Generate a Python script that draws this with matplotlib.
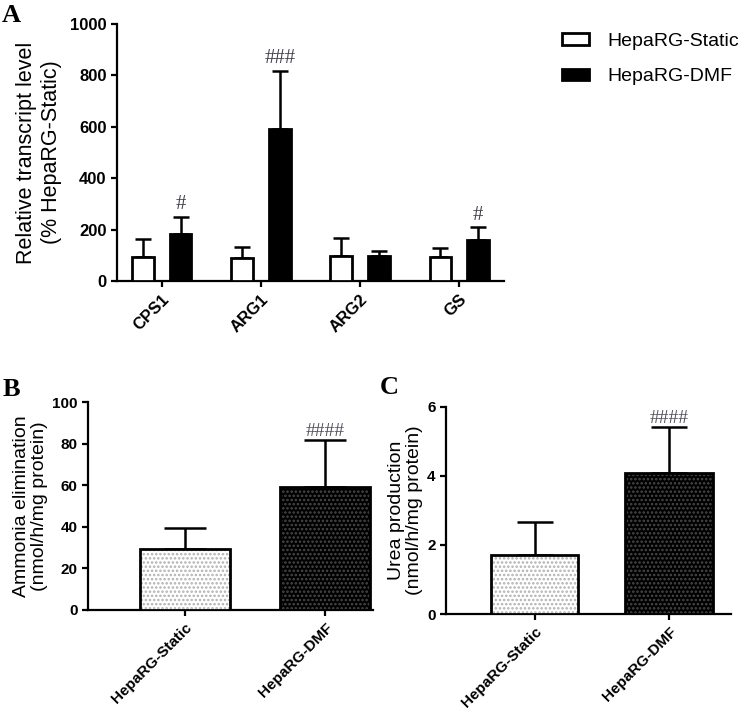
import numpy as np
import matplotlib
matplotlib.use("Agg")
import matplotlib.pyplot as plt
from matplotlib.patches import Patch

plt.rcParams['font.family'] = ['Liberation Sans', 'DejaVu Sans']
plt.rcParams['hatch.linewidth'] = 1.2

# Panel A: transcript levels (% HepaRG-Static), mean and SD
genes = ["CPS1", "ARG1", "ARG2", "GS"]
static_mean = [95, 90, 97, 92]
static_sd = [68, 42, 70, 38]
dmf_mean = [183, 592, 97, 158]
dmf_sd = [66, 225, 21, 51]
a_marks = ["#", "###", "", "#"]

# Panel B: ammonia elimination
groups = ["HepaRG-Static", "HepaRG-DMF"]
ammonia_mean = [29.5, 59.3]
ammonia_sd = [10.2, 22.3]

# Panel C: urea production
urea_mean = [1.70, 4.07]
urea_sd = [0.95, 1.35]

fig = plt.figure(figsize=(7.53, 7.11), dpi=100)


def style_axes(ax, tick_size):
    for s in ["top", "right"]:
        ax.spines[s].set_visible(False)
    for s in ["left", "bottom"]:
        ax.spines[s].set_linewidth(1.6)
    ax.tick_params(width=1.6, length=4, labelsize=tick_size)
    for lab in ax.get_yticklabels():
        lab.set_fontweight("bold")


# ---- Panel A ----
axA = fig.add_axes([0.1554, 0.6048, 0.5139, 0.3615])
x = np.arange(len(genes))
w = 0.22
off = 0.19
axA.bar(x - off, static_mean, w, color="white", edgecolor="black", linewidth=2, zorder=3)
axA.bar(x + off, dmf_mean, w, color="black", edgecolor="black", linewidth=2, zorder=3)
axA.errorbar(x - off, static_mean, yerr=[np.zeros(4), static_sd], fmt="none",
             ecolor="black", elinewidth=1.8, capsize=6, capthick=1.8, zorder=2)
axA.errorbar(x + off, dmf_mean, yerr=[np.zeros(4), dmf_sd], fmt="none",
             ecolor="black", elinewidth=1.8, capsize=6, capthick=1.8, zorder=2)
for i, m in enumerate(a_marks):
    if m:
        axA.text(x[i] + off, dmf_mean[i] + dmf_sd[i] + 10, m, ha="center", va="bottom",
                 fontsize=15, color="#40404a", family="Liberation Serif")
axA.set_xlim(-0.45, 3.45)
axA.set_ylim(0, 1000)
axA.set_yticks([0, 200, 400, 600, 800, 1000])
axA.set_xticks(x)
axA.set_xticklabels(genes, rotation=45, ha="right", rotation_mode="anchor",
                    fontweight="bold", fontsize=13)
style_axes(axA, 12)
axA.set_ylabel("Relative transcript level\n(% HepaRG-Static)", fontsize=15.5,
               labelpad=6, linespacing=1.25)

fig.legend(handles=[Patch(facecolor="white", edgecolor="black", linewidth=2),
                    Patch(facecolor="black", edgecolor="black", linewidth=2)],
           labels=groups, loc="upper left", bbox_to_anchor=(562 / 753, 1 - 33 / 711),
           frameon=False, fontsize=14, handlelength=1.4, handleheight=0.55,
           labelspacing=0.95, handletextpad=0.95, borderpad=0, borderaxespad=0)


def panel(rect, means, sds, ylim, yticks, ylabel, capsize, xlim, bw):
    ax = fig.add_axes(rect)
    xs = np.arange(2)
    # dotted fill first, then the black outline on top
    ax.bar(xs, means, bw, color=["white", "black"], edgecolor=["#b0b0b0", "#4a4a4a"],
           hatch="....", linewidth=0, zorder=3)
    ax.bar(xs, means, bw, color="none", edgecolor="black", linewidth=2, zorder=4)
    ax.errorbar(xs, means, yerr=[np.zeros(2), sds], fmt="none", ecolor="black",
                elinewidth=1.8, capsize=capsize, capthick=1.8, zorder=2)
    ax.text(xs[1], means[1] + sds[1], "####", ha="center", va="bottom",
            fontsize=14, color="#50505a", family="Liberation Serif")
    ax.set_xlim(*xlim)
    ax.set_ylim(*ylim)
    ax.set_yticks(yticks)
    ax.set_xticks(xs)
    ax.set_xticklabels(groups, rotation=45, ha="right", rotation_mode="anchor",
                       fontweight="bold", fontsize=12)
    style_axes(ax, 11)
    ax.set_ylabel(ylabel, fontsize=14, labelpad=3, linespacing=1.1)
    return ax


panel([0.1169, 0.1421, 0.3785, 0.2921], ammonia_mean, ammonia_sd, (0, 100),
      [0, 20, 40, 60, 80, 100], "Ammonia elimination\n(nmol/h/mg protein)", 15,
      (-0.69, 1.34), 0.64)
panel([0.5923, 0.1364, 0.3785, 0.2916], urea_mean, urea_sd, (0, 6),
      [0, 2, 4, 6], "Urea production\n(nmol/h/mg protein)", 13,
      (-0.66, 1.46), 0.65)

for lab, (px, py) in zip("ABC", [(2, 4), (3, 378), (380, 376)]):
    fig.text(px / 753, 1 - py / 711, lab, ha="left", va="top", fontsize=19,
             fontweight="bold", family="Liberation Serif")

fig.savefig("out.png", dpi=100)
